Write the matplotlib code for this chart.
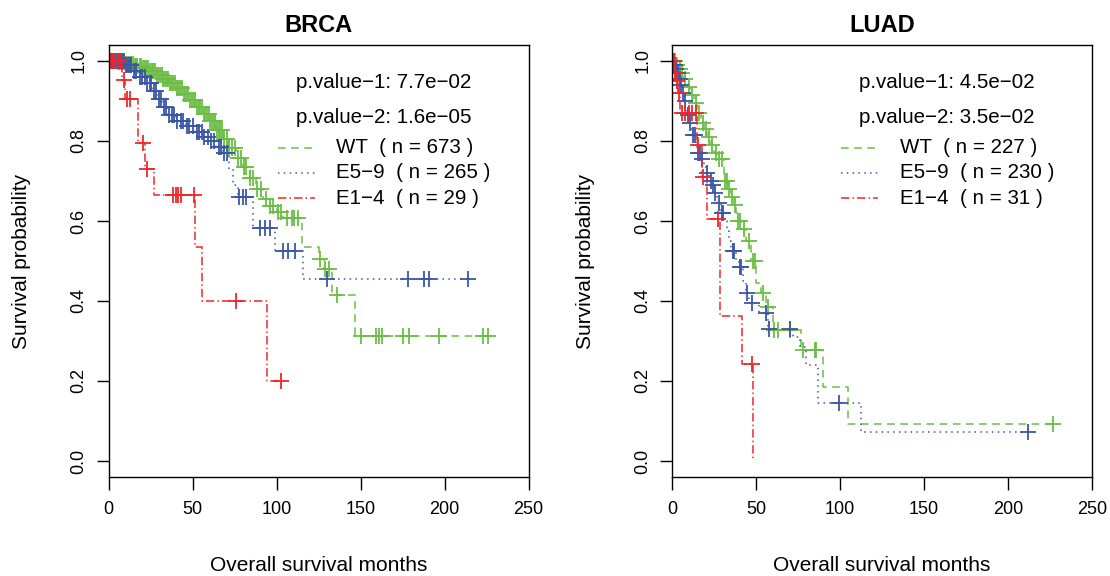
import numpy as np
import matplotlib.pyplot as plt

plt.rcParams['font.family'] = ['Liberation Sans', 'DejaVu Sans']

# Kaplan-Meier curves: step times / survival after the step,
# last follow-up time, and censoring times

groups = ["WT", "E5\u22129", "E1\u22124"]

# BRCA
brca_n = [673, 265, 29]
brca_p = ["7.7e\u221202", "1.6e\u221205"]

brca_wt_time = [0, 5, 10, 15, 20, 24, 28, 32, 36, 40, 44, 48, 52, 56, 60, 64, 68, 72, 76, 80,
                84, 88, 92, 96, 100, 104, 115, 125, 128, 133, 147]
brca_wt_surv = [1.0, 0.997, 0.993, 0.988, 0.982, 0.975, 0.966, 0.955, 0.944, 0.932, 0.918, 0.902,
                0.886, 0.868, 0.850, 0.828, 0.805, 0.782, 0.758, 0.735, 0.708, 0.680, 0.655, 0.638,
                0.622, 0.608, 0.534, 0.506, 0.480, 0.414, 0.313]
brca_wt_end = 226
brca_wt_cens = [0.5, 1.2, 2, 2.8, 3.5, 4.3, 5.5, 6.2, 7, 8.1, 9, 10.4, 11.2, 12, 13.5, 14.3, 15.5,
                16.4, 17.2, 18.5, 19.3, 20.6, 21.5, 22.4, 23.6, 24.5, 25.8, 26.7, 27.5, 28.8, 29.6,
                30.5, 31.8, 32.6, 33.5, 34.7, 35.6, 36.4, 37.8, 38.6, 39.5, 40.7, 41.6, 42.5, 43.8,
                44.7, 45.5, 46.8, 47.6, 48.5, 49.7, 50.6, 51.5, 52.8, 53.7, 54.6, 55.8, 56.7, 57.6,
                58.8, 59.7, 60.6, 61.8, 62.7, 63.6, 64.8, 65.7, 66.6, 67.8, 69, 70.5, 72, 73.5, 75,
                77, 79, 80.5, 82, 84.5, 86, 88.5, 91, 93.5, 96, 98, 101, 102.5, 106, 109, 110.5, 113,
                126, 129, 131, 136, 150, 159, 161, 163, 175, 179, 197, 223, 226]

brca_e59_time = [0, 10, 14, 18, 22, 26, 29, 32, 35, 40, 46, 52, 56, 60, 64, 68, 72, 74, 77, 86,
                 99, 116]
brca_e59_surv = [1.0, 0.99, 0.975, 0.96, 0.945, 0.925, 0.905, 0.885, 0.865, 0.85, 0.838, 0.822,
                 0.81, 0.80, 0.785, 0.77, 0.73, 0.69, 0.66, 0.583, 0.526, 0.454]
brca_e59_end = 214
brca_e59_cens = [0.5, 1, 1.6, 2.3, 3, 4, 5, 6, 7, 8, 9, 10.5, 11.5, 12.5, 13.5, 15, 16.5, 18.5,
                 20, 21.5, 23, 24.5, 25.5, 27, 28, 30, 31, 33, 34, 36, 37.5, 39, 41, 43, 44.5, 46.5,
                 48, 50, 52.5, 54, 55.5, 57, 59, 61, 63, 65.5, 67, 69, 70.5, 77.5, 80, 82, 90, 93,
                 96, 104, 107, 111, 130, 178, 188, 191, 214]

brca_e14_time = [0, 8, 10, 17.5, 21.5, 27, 51.5, 55.5, 94.5]
brca_e14_surv = [1.0, 0.952, 0.905, 0.794, 0.73, 0.664, 0.534, 0.40, 0.20]
brca_e14_end = 102.5
brca_e14_cens = [0.5, 1.5, 2.5, 4, 5.5, 7, 9, 11, 12.5, 20.5, 23, 38.5, 40, 41.5, 43, 51, 76, 102.5]

# LUAD
luad_n = [227, 230, 31]
luad_p = ["4.5e\u221202", "3.5e\u221202"]

luad_wt_time = [0, 2, 4, 5, 7, 9, 11, 13, 15, 17, 19, 21, 23, 25, 27, 31, 33, 35, 37, 38, 39, 41,
                44, 47, 50, 53, 56, 60, 77, 90, 105]
luad_wt_surv = [1.0, 0.99, 0.98, 0.97, 0.955, 0.935, 0.915, 0.895, 0.87, 0.845, 0.83, 0.81, 0.79,
                0.77, 0.755, 0.70, 0.68, 0.66, 0.64, 0.62, 0.60, 0.58, 0.55, 0.50, 0.444, 0.42,
                0.385, 0.327, 0.277, 0.185, 0.0925]
luad_wt_end = 227
luad_wt_cens = [0.5, 1, 1.5, 2.5, 3, 4.5, 6, 8, 10, 12, 14, 16, 18.5, 20, 22, 24, 26, 28, 30, 31.5,
                32.5, 34, 36, 37.5, 39, 40.5, 43, 46, 48, 49.5, 54, 57, 61, 63, 70, 78, 85, 86, 227]

luad_e59_time = [0, 1, 2, 3, 4, 5, 6, 7, 8, 9, 10, 11, 12, 14, 15, 17, 19, 20, 22, 24, 25, 27, 29,
                 31, 33, 34, 35, 38, 40, 42, 44, 46, 52, 57, 72, 76, 80, 87, 112.5]
luad_e59_surv = [1.0, 0.99, 0.98, 0.97, 0.955, 0.94, 0.92, 0.90, 0.885, 0.865, 0.845, 0.83, 0.815,
                 0.79, 0.77, 0.755, 0.735, 0.72, 0.70, 0.69, 0.67, 0.645, 0.62, 0.60, 0.575, 0.55,
                 0.525, 0.50, 0.485, 0.45, 0.42, 0.395, 0.37, 0.33, 0.31, 0.285, 0.24, 0.144, 0.072]
luad_e59_end = 212
luad_e59_cens = [0.3, 0.8, 1.2, 1.8, 2.5, 3.5, 4.5, 5.5, 6.5, 7.7, 9.5, 10.5, 12.5, 13.5, 15.5,
                 16.5, 18, 20.8, 23, 24.4, 25.6, 28, 29.8, 30.4, 36.3, 37, 40.5, 41, 44.6, 47.5, 56,
                 57.8, 70, 99.5, 212]

luad_e14_time = [0, 1.5, 2.5, 3.5, 5, 15, 18, 21, 28.5, 41.7, 48]
luad_e14_surv = [1.0, 0.97, 0.95, 0.92, 0.87, 0.79, 0.71, 0.606, 0.362, 0.242, 0.0]
luad_e14_end = 48
luad_e14_cens = [0.5, 1, 2, 3, 4, 6, 8, 10, 12, 14, 15.6, 18.5, 27.4, 47.6]

colors = ["#6cbd45", "#3b56a6", "#f0262b"]
styles = [(0, (5, 3.6)), (0, (1, 2.8)), (0, (5.5, 2, 1, 2))]


def surv_at(times, surv, t):
    idx = np.searchsorted(times, t, side="right") - 1
    return np.asarray(surv)[idx]


def km_curve(ax, times, surv, end, cens, color, ls):
    tt = list(times) + [end]
    ss = list(surv) + [surv[-1]]
    ax.step(tt, ss, where="post", color=color, linestyle=ls, lw=1.1)
    ax.plot(cens, surv_at(times, surv, cens), linestyle="none", marker="+",
            ms=11.5, mew=1.3, color=color)


def panel(ax, title, curves, n, pvals):
    for (times, surv, end, cens), color, ls in zip(curves, colors, styles):
        km_curve(ax, times, surv, end, cens, color, ls)

    ax.set_xlim(0, 250)
    ax.set_ylim(-0.04, 1.04)
    ax.set_xticks([0, 50, 100, 150, 200, 250])
    ax.set_yticks([0.0, 0.2, 0.4, 0.6, 0.8, 1.0])
    ax.set_yticklabels(["0.0", "0.2", "0.4", "0.6", "0.8", "1.0"])
    ax.tick_params(direction="out", length=9, width=1, labelsize=13, colors="black")
    ax.tick_params(axis="x", pad=8)
    ax.tick_params(axis="y", pad=6, labelrotation=90)
    for lab in ax.get_yticklabels():
        lab.set_va("center")
    for sp in ax.spines.values():
        sp.set_linewidth(1.0)

    ax.set_title(title, fontsize=17, fontweight="bold", pad=9)
    ax.set_xlabel("Overall survival months", fontsize=15)
    ax.xaxis.set_label_coords(0.5, -0.206)
    ax.xaxis.label.set_va("center")
    ax.set_ylabel("Survival probability", fontsize=15)
    ax.yaxis.set_label_coords(-0.206, 0.5)
    ax.yaxis.label.set_va("center")

    ax.text(0.4455, 0.9005, "p.value\u22121: " + pvals[0], transform=ax.transAxes,
            fontsize=14.8, va="baseline")
    ax.text(0.4455, 0.8187, "p.value\u22122: " + pvals[1], transform=ax.transAxes,
            fontsize=14.8, va="baseline")

    # legend
    for i, (name, k) in enumerate(zip(groups, n)):
        y = 0.7616 - i * 0.0579
        ax.plot([0.4028, 0.4905], [y, y], transform=ax.transAxes, color=colors[i],
                linestyle=styles[i], lw=1.1)
        ax.text(0.5427, y, f"{name}  ( n = {k} )", transform=ax.transAxes,
                fontsize=14.8, va="center")


fig = plt.figure(figsize=(11.1, 5.76), dpi=100)
fig.patch.set_facecolor("white")

ax1 = fig.add_axes([0.09775, 0.1719, 0.37838, 0.75])
ax2 = fig.add_axes([0.60541, 0.1719, 0.37838, 0.75])

panel(ax1, "BRCA",
      [(brca_wt_time, brca_wt_surv, brca_wt_end, brca_wt_cens),
       (brca_e59_time, brca_e59_surv, brca_e59_end, brca_e59_cens),
       (brca_e14_time, brca_e14_surv, brca_e14_end, brca_e14_cens)],
      brca_n, brca_p)

panel(ax2, "LUAD",
      [(luad_wt_time, luad_wt_surv, luad_wt_end, luad_wt_cens),
       (luad_e59_time, luad_e59_surv, luad_e59_end, luad_e59_cens),
       (luad_e14_time, luad_e14_surv, luad_e14_end, luad_e14_cens)],
      luad_n, luad_p)

plt.savefig("out.png", dpi=100, facecolor=fig.get_facecolor())
